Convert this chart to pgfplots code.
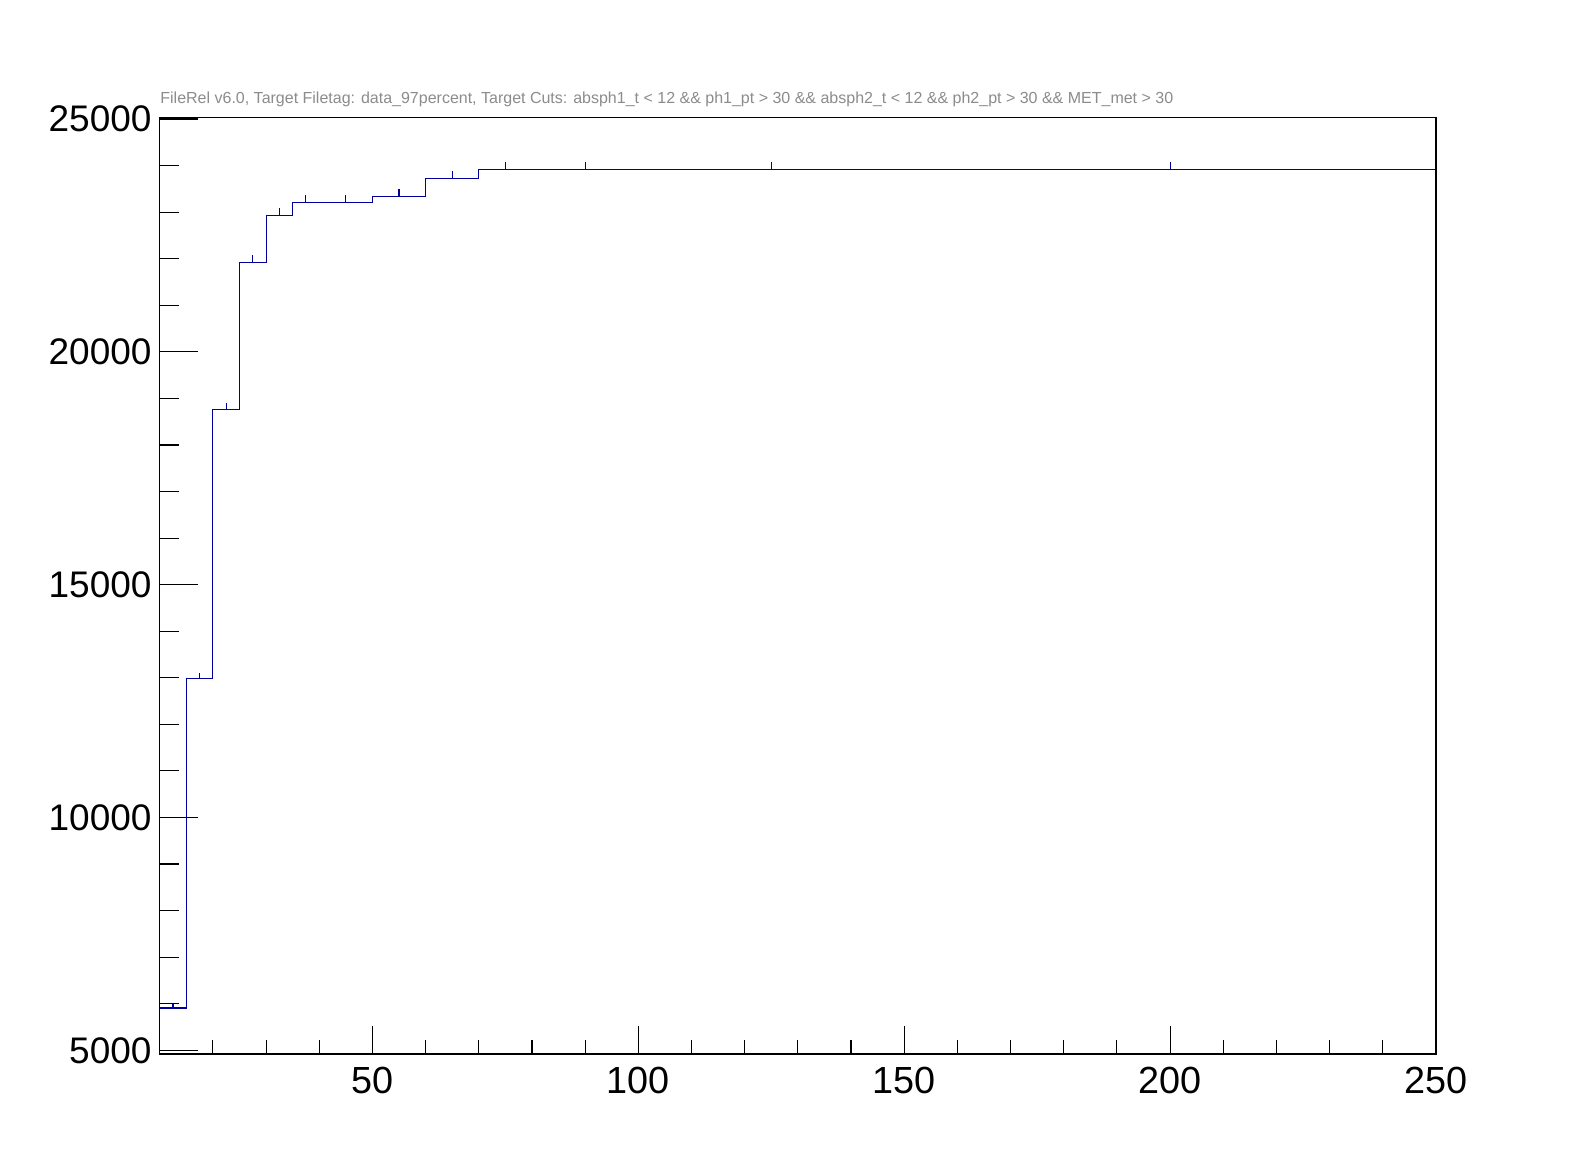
\documentclass[border=0pt]{standalone}
\usepackage{pgfplots}
\pgfplotsset{compat=1.18}
\usepackage{fontspec}
\setmainfont{Liberation Sans}
\definecolor{histblue}{RGB}{0,0,153}
\definecolor{titlegray}{RGB}{140,140,140}
\pgfplotsset{
  rootaxis/.style={
    at={(79.85pt,59pt)}, anchor=south west,
    scale only axis, width=638.15pt, height=468.35pt,
    xmin=10, xmax=250, ymin=4920, ymax=25037,
    tick align=inside, tick pos=left,
    scaled ticks=false,
    axis line style={line width=0.65pt, black},
    every tick/.style={line width=0.55pt, black},
    /pgf/number format/assume math mode=true,
    /pgf/number format/.cd, 1000 sep={}, /pgfplots/.cd,
    tick label style={font=\fontsize{18.9}{20}\selectfont},
  }
}
\begin{document}
\begin{tikzpicture}[x=1pt,y=1pt]
\path[use as bounding box, fill=white] (0,0) rectangle (798,586);
% y ticks and data
\begin{axis}[rootaxis,
    xtick=\empty,
    ytick={5000,10000,15000,20000,25000},
    minor ytick={6000,7000,8000,9000,11000,12000,13000,14000,16000,17000,18000,19000,21000,22000,23000,24000},
    major tick length=19pt, minor tick length=9.5pt,
    yticklabel style={anchor=east, inner sep=0pt, xshift=-3.9pt, font=\fontsize{18.5}{20}\selectfont},
  ]
  \addplot[histblue, line width=0.55pt, const plot mark left, mark=none] coordinates {
    (10,5908) (15,12990) (20,18770) (25,21922) (30,22932) (35,23211)
    (40,23211) (50,23340) (60,23726) (70,23920) (80,23922) (100,23922)
    (150,23922) (250,23922)
  };
  \addplot[draw=none, mark=none,
    error bars/.cd, y dir=plus, y explicit, error mark=none,
    error bar style={draw=histblue, solid, line width=0.55pt}] coordinates {
    (12.5,5908) +- (0,77)
    (17.5,12990) +- (0,114)
    (22.5,18770) +- (0,137)
    (27.5,21922) +- (0,148)
    (32.5,22932) +- (0,151)
    (37.5,23211) +- (0,152)
    (45,23211) +- (0,152)
    (55,23340) +- (0,153)
    (65,23726) +- (0,154)
    (75,23920) +- (0,155)
    (90,23922) +- (0,155)
    (125,23922) +- (0,155)
    (200,23922) +- (0,155)
  };
\end{axis}
% x ticks
\begin{axis}[rootaxis,
    ytick=\empty,
    xtick={50,100,150,200,250},
    minor xtick={20,30,40,60,70,80,90,110,120,130,140,160,170,180,190,210,220,230,240},
    major tick length=14pt, minor tick length=7pt,
    xticklabel style={anchor=north, inner sep=0pt, yshift=-6.5pt},
  ]
\end{axis}
\node[anchor=base west, inner sep=0pt, text=titlegray, font=\fontsize{8}{9}\selectfont]
  at (80,534) {FileRel v6.0, Target Filetag: data\_97percent, Target Cuts: absph1\_t < 12 \&\& ph1\_pt > 30 \&\& absph2\_t < 12 \&\& ph2\_pt > 30 \&\& MET\_met > 30};
\end{tikzpicture}
\end{document}
